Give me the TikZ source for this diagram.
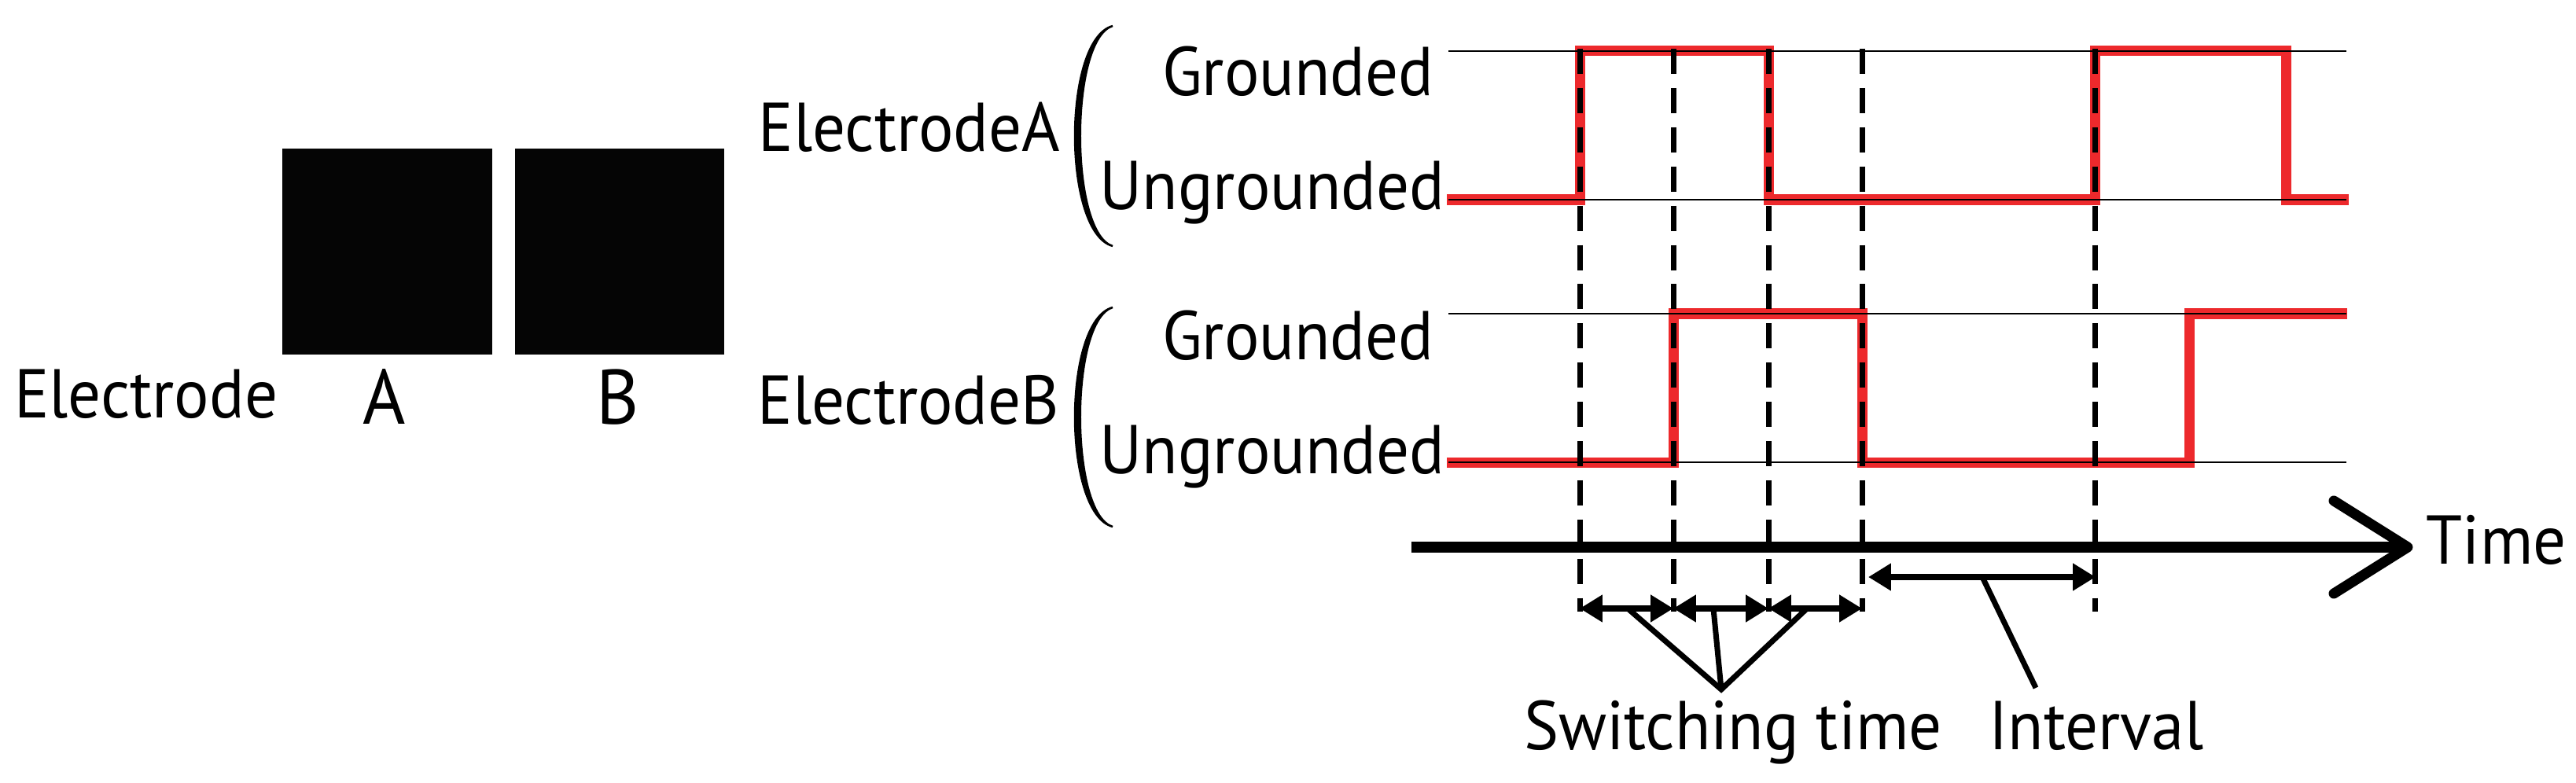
\documentclass[tikz,border=0pt]{standalone}
\usepackage{fontspec}
\setmainfont{PT Sans}[FakeStretch=0.945]
\usetikzlibrary{arrows.meta}
\definecolor{sigred}{RGB}{237,41,44}

\begin{document}
\begin{tikzpicture}[font=\fontsize{25}{30}\selectfont,
    level/.style={line width=0.7pt},
    signal/.style={sigred,line width=3.7pt,line join=miter},
    marker/.style={line width=2pt,dash pattern=on 9.1pt off 5.1pt},
    span/.style={line width=2.5pt,
      {Triangle[length=8.2pt,width=9.4pt]}-{Triangle[length=8.2pt,width=9.4pt]}},
    leader/.style={line width=2pt},
    lbl/.style={inner sep=0pt}]

  % Fixed frame of the figure
  \useasboundingbox (0,0) rectangle (32.76,9.95);

  % Electrode pads
  \fill[black!98] (3.59,5.44) rectangle (6.26,8.06);
  \fill[black!98] (6.55,5.44) rectangle (9.21,8.06);
  \node[lbl,anchor=base east] (elec) at (3.54,4.64) {Electrode};
  \node[lbl,anchor=base,font=\fontsize{28}{33}\selectfont] (padA) at (4.89,4.56) {A};
  \node[lbl,anchor=base,font=\fontsize{28}{33}\selectfont] (padB) at (7.86,4.56) {B};

  % Row labels
  \node[lbl,anchor=base east] (elA) at (13.49,8.02) {ElectrodeA};
  \node[lbl,anchor=base east] (elB) at (13.48,4.56) {ElectrodeB};
  \node[lbl,anchor=base east] (gndA) at (18.24,8.73) {Grounded};
  \node[lbl,anchor=base east] (ungA) at (18.38,7.28) {Ungrounded};
  \node[lbl,anchor=base east] (gndB) at (18.24,5.38) {Grounded};
  \node[lbl,anchor=base east] (ungB) at (18.38,3.93) {Ungrounded};

  % Brackets
  \filldraw[line width=0.7pt] (14.15,9.62) .. controls (13.51,9.45) and (13.51,6.99) .. (14.15,6.82)
        .. controls (13.60,6.99) and (13.60,9.45) .. cycle;
  \filldraw[line width=0.7pt] (14.15,6.04) .. controls (13.51,5.87) and (13.51,3.42) .. (14.15,3.25)
        .. controls (13.60,3.42) and (13.60,5.87) .. cycle;

  % Switching states (red traces)
  \draw[signal] (18.40,7.41) -| (20.09,9.30) -| (22.49,7.41) -| (26.64,9.30)
        -| (29.07,7.41) -- (29.87,7.41);
  \draw[signal] (18.40,4.07) -| (21.28,5.96) -| (23.68,4.07) -| (27.84,5.96)
        -- (29.85,5.96);

  % Reference levels
  \foreach \y in {9.30,7.41,5.96,4.07}
    \draw[level] (18.42,\y) -- (29.84,\y);

  % Switching instants
  \foreach \x [count=\i] in {20.09,21.28,22.49,23.68,26.64} {
    \draw[marker] (\x,9.33) -- (\x,2.17);
    \coordinate (sw\i) at (\x,2.21);
  }

  % Time axis
  \draw[line width=4pt] (17.95,2.99) -- (30.58,2.99);
  \draw[line width=3.7pt,line cap=round,line join=round]
        (29.68,3.58) -- (30.62,2.99) -- (29.68,2.40);
  \node[lbl,anchor=base west] (time) at (30.85,2.78) {Time};

  % Durations
  \draw[span] (sw1) -- (sw2);
  \draw[span] (sw2) -- (sw3);
  \draw[span] (sw3) -- (sw4);
  \coordinate (ivL) at (23.76,2.61);
  \coordinate (ivR) at (26.65,2.61);
  \draw[span] (ivL) -- (ivR);

  % Callouts
  \node[lbl,anchor=base] (swlbl) at (22.04,0.42) {Switching time};
  \node[lbl,anchor=base] (ivlbl) at (26.66,0.42) {Interval};
  \coordinate (swtip) at (21.89,1.18);
  \coordinate (ivtip) at (25.89,1.20);
  \draw[leader] (20.70,2.21) -- (swtip) -- (22.98,2.21);
  \draw[leader] (21.79,2.21) -- (swtip);
  \draw[leader] (25.21,2.61) -- (ivtip);

\end{tikzpicture}
\end{document}
